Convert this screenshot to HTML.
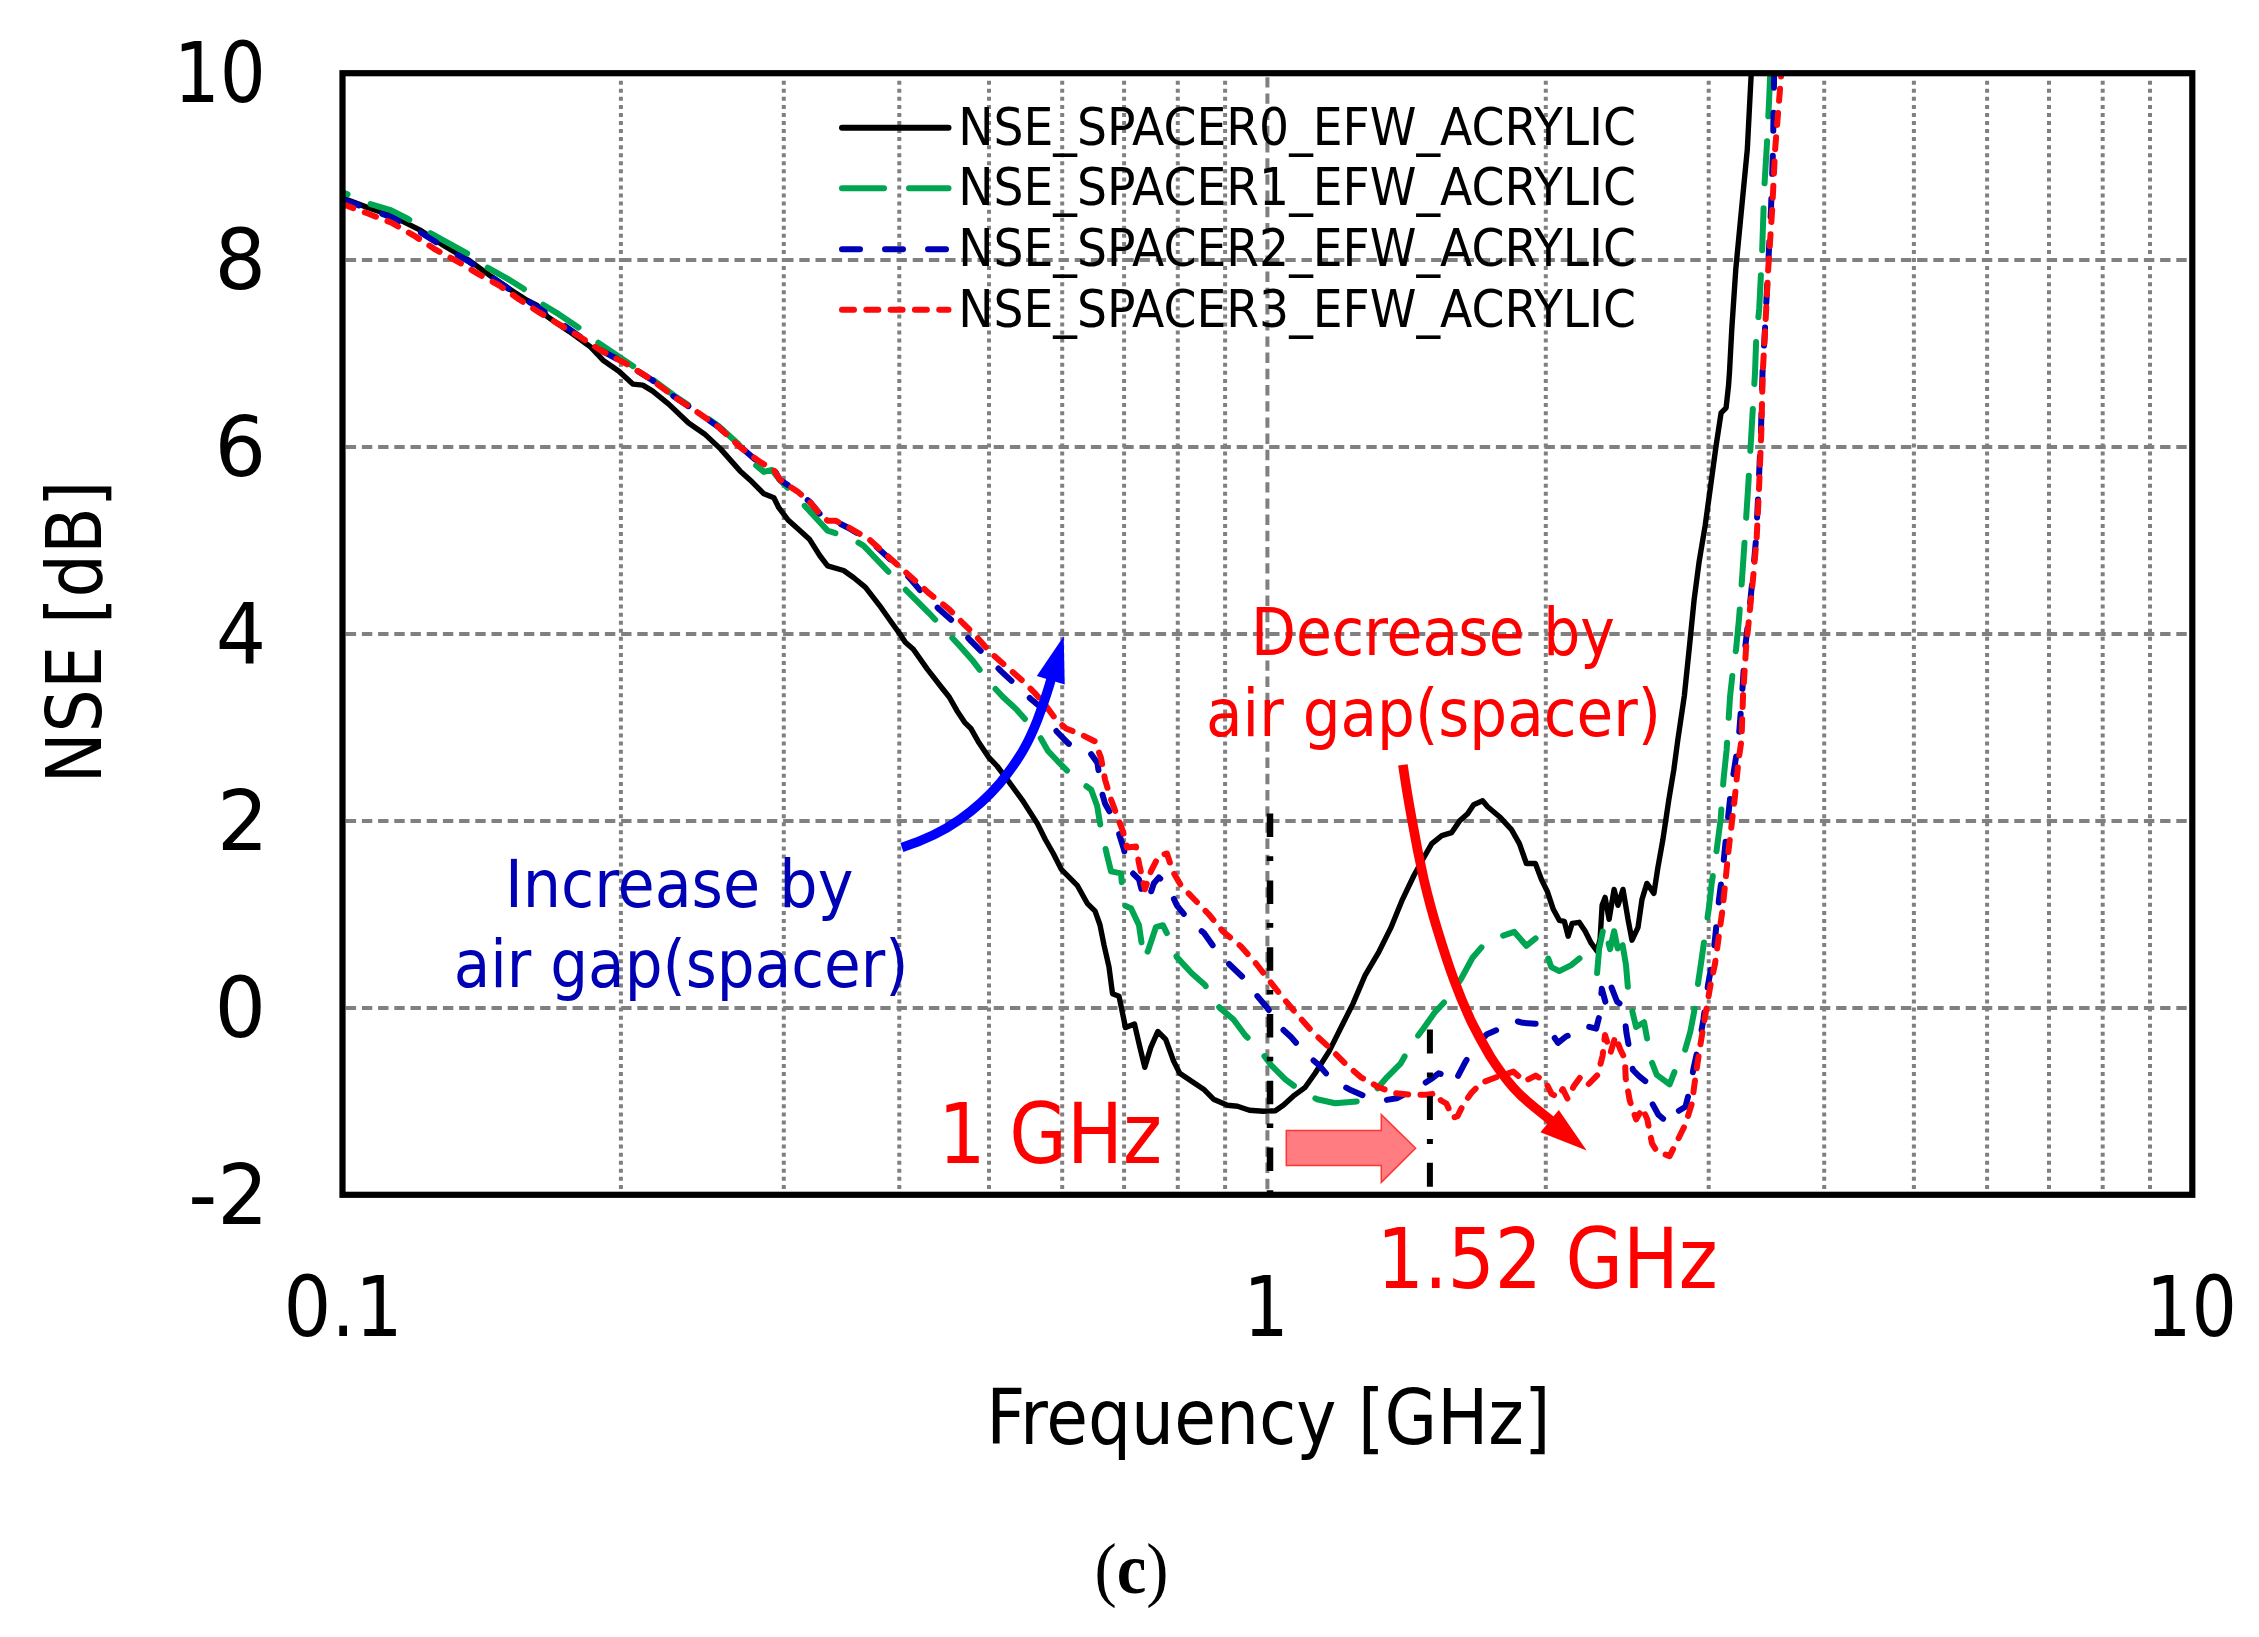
<!DOCTYPE html>
<html lang="en"><head><meta charset="utf-8"><title>NSE vs Frequency (c)</title>
<style>html,body{margin:0;padding:0;background:#fff;}svg{display:block;}text{font-family:"DejaVu Sans Condensed","DejaVu Sans","Liberation Sans",sans-serif;}.ser{font-family:"Liberation Serif",serif;}</style></head><body>
<svg width="2259" height="1637" viewBox="0 0 2259 1637">
<rect width="2259" height="1637" fill="#fff"/>
<defs><clipPath id="pc"><rect x="342.5" y="73.2" width="1849.8000000000002" height="1121.6"/></clipPath></defs>
<g stroke="#808080" stroke-width="4" fill="none">
<line x1="620.9" y1="80.7" x2="620.9" y2="1194.8" stroke-dasharray="4 4.06"/>
<line x1="783.8" y1="80.7" x2="783.8" y2="1194.8" stroke-dasharray="4 4.06"/>
<line x1="899.3" y1="80.7" x2="899.3" y2="1194.8" stroke-dasharray="4 4.06"/>
<line x1="989.0" y1="80.7" x2="989.0" y2="1194.8" stroke-dasharray="4 4.06"/>
<line x1="1062.2" y1="80.7" x2="1062.2" y2="1194.8" stroke-dasharray="4 4.06"/>
<line x1="1124.1" y1="80.7" x2="1124.1" y2="1194.8" stroke-dasharray="4 4.06"/>
<line x1="1177.8" y1="80.7" x2="1177.8" y2="1194.8" stroke-dasharray="4 4.06"/>
<line x1="1225.1" y1="80.7" x2="1225.1" y2="1194.8" stroke-dasharray="4 4.06"/>
<line x1="1545.8" y1="80.7" x2="1545.8" y2="1194.8" stroke-dasharray="4 4.06"/>
<line x1="1708.7" y1="80.7" x2="1708.7" y2="1194.8" stroke-dasharray="4 4.06"/>
<line x1="1824.2" y1="80.7" x2="1824.2" y2="1194.8" stroke-dasharray="4 4.06"/>
<line x1="1913.9" y1="80.7" x2="1913.9" y2="1194.8" stroke-dasharray="4 4.06"/>
<line x1="1987.1" y1="80.7" x2="1987.1" y2="1194.8" stroke-dasharray="4 4.06"/>
<line x1="2049.0" y1="80.7" x2="2049.0" y2="1194.8" stroke-dasharray="4 4.06"/>
<line x1="2102.7" y1="80.7" x2="2102.7" y2="1194.8" stroke-dasharray="4 4.06"/>
<line x1="2150.0" y1="80.7" x2="2150.0" y2="1194.8" stroke-dasharray="4 4.06"/>
<line x1="345.7" y1="260.1" x2="2192.3" y2="260.1" stroke-dasharray="10.4 5.8"/>
<line x1="345.7" y1="447.1" x2="2192.3" y2="447.1" stroke-dasharray="10.4 5.8"/>
<line x1="345.7" y1="634.0" x2="2192.3" y2="634.0" stroke-dasharray="10.4 5.8"/>
<line x1="345.7" y1="820.9" x2="2192.3" y2="820.9" stroke-dasharray="10.4 5.8"/>
<line x1="345.7" y1="1007.9" x2="2192.3" y2="1007.9" stroke-dasharray="10.4 5.8"/>
<line x1="1267.4" y1="77.2" x2="1267.4" y2="1194.8" stroke-dasharray="10.4 5.8"/>
</g>
<g clip-path="url(#pc)" fill="none" stroke-linejoin="round">
<polyline points="342.0,197.9 365.9,206.9 391.8,215.8 419.7,229.8 445.6,246.7 469.5,260.6 491.4,276.6 513.3,291.5 527.3,300.5 537.2,305.5 547.2,316.4 569.1,331.4 591.0,347.3 603.0,360.2 618.9,371.2 632.8,384.1 642.8,385.1 652.7,391.1 668.7,404.1 688.6,423.0 704.5,433.9 720.5,448.9 740.0,470.9 752.0,481.8 763.9,493.8 773.9,497.8 778.8,507.7 787.8,519.7 799.8,530.6 809.7,539.6 819.7,555.5 827.6,565.9 843.6,570.5 853.5,577.5 865.5,587.4 879.4,605.3 891.4,622.3 901.4,636.2 905.3,642.2 913.3,649.2 927.3,669.1 941.2,687.0 949.2,697.0 957.1,710.9 965.1,722.9 971.1,728.8 979.0,742.8 989.0,757.7 997.0,766.0 1007.5,779.8 1023.4,801.7 1037.4,823.6 1045.3,839.5 1053.3,853.5 1061.3,869.4 1077.2,885.3 1087.2,903.3 1095.1,911.2 1100.0,925.0 1104.0,945.0 1109.0,967.0 1112.5,993.7 1119.0,996.2 1122.5,1013.0 1125.5,1027.6 1134.5,1024.0 1139.5,1045.6 1144.8,1067.3 1150.8,1047.4 1157.8,1031.5 1165.7,1039.4 1173.7,1061.4 1179.7,1073.3 1191.6,1081.3 1203.6,1089.2 1213.5,1099.2 1227.5,1105.2 1237.5,1106.2 1249.4,1110.2 1263.3,1111.2 1275.3,1110.8 1283.3,1105.2 1293.2,1096.2 1305.2,1087.3 1315.1,1073.3 1329.1,1051.4 1341.0,1027.5 1353.0,1003.6 1364.9,975.7 1378.9,951.8 1390.8,927.9 1402.4,899.6 1413.9,875.5 1423.8,857.5 1431.8,843.6 1441.8,835.6 1451.7,832.6 1459.7,820.7 1467.6,813.7 1473.6,804.7 1482.6,800.8 1487.6,806.7 1499.5,816.7 1511.5,829.6 1519.4,843.6 1526.4,863.5 1535.4,863.5 1541.4,879.4 1547.3,891.4 1553.3,909.3 1559.3,920.3 1564.3,921.3 1568.2,936.2 1572.2,923.3 1579.2,922.3 1585.2,931.2 1591.2,943.2 1597.1,951.2 1600.1,939.2 1602.1,905.3 1605.1,897.4 1609.1,919.3 1614.1,889.4 1618.0,905.3 1623.0,889.4 1628.0,919.3 1632.0,940.2 1638.0,927.3 1642.0,899.4 1646.9,883.4 1653.9,893.4 1657.9,867.5 1662.9,839.6 1668.8,799.8 1673.8,769.9 1677.8,740.0 1684.3,696.1 1689.2,648.9 1694.2,599.1 1699.2,561.2 1705.2,525.4 1711.2,481.6 1716.1,445.7 1721.1,412.8 1726.1,407.8 1728.5,385.9 1729.5,372.0 1731.8,328.9 1735.8,269.1 1741.5,209.4 1747.3,149.6 1751.2,73.9 1752.0,55.0" stroke="#000" stroke-width="5.4" stroke-linecap="round"/>
<polyline points="342.0,191.9 369.9,203.9 389.8,209.8 407.7,218.8 429.6,232.7 447.6,242.7 467.5,253.7 487.4,267.6 507.3,278.6 523.3,288.5 541.2,303.5 559.1,314.4 577.0,326.4 599.0,343.3 626.9,362.0 650.8,378.0 674.7,396.0 698.6,412.0 718.5,426.0 738.4,444.0 752.0,461.9 763.9,471.9 771.9,469.9 779.8,479.8 801.8,502.7 815.7,517.7 827.6,530.6 851.6,538.6 863.5,545.6 883.4,566.5 899.4,583.4 913.3,597.4 929.2,613.3 945.2,630.2 959.1,645.2 973.1,661.1 988.0,681.0 1003.0,697.0 1016.9,709.9 1038.8,734.8 1048.0,751.0 1057.3,760.8 1073.2,776.8 1091.2,789.7 1097.1,805.7 1101.1,829.6 1107.1,855.5 1111.1,871.4 1121.0,873.4 1124.0,905.3 1131.0,908.2 1139.0,925.2 1143.9,959.0 1147.9,951.1 1155.9,927.2 1162.9,925.2 1168.8,937.1 1176.8,957.1 1192.0,973.5 1205.0,985.0 1214.0,1000.0 1219.5,1007.6 1233.5,1019.5 1245.4,1035.5 1259.4,1049.4 1271.3,1065.3 1285.3,1079.3 1301.2,1091.2 1317.1,1099.2 1335.1,1103.2 1359.0,1101.2 1374.9,1091.2 1386.9,1077.3 1400.8,1063.3 1410.8,1045.4 1422.7,1029.5 1434.7,1012.5 1448.6,997.6 1460.6,979.7 1472.5,957.8 1484.5,943.8 1502.4,935.9 1514.3,931.9 1526.3,945.8 1536.3,937.8 1546.3,953.1 1551.3,967.1 1559.3,971.1 1571.2,965.1 1581.2,957.1 1587.2,965.1 1597.1,973.1 1599.1,949.2 1604.1,925.3 1610.1,949.2 1614.1,931.2 1619.0,955.1 1622.0,941.2 1626.0,965.1 1628.0,989.0 1632.0,1010.0 1636.1,1027.0 1644.1,1022.2 1647.3,1039.7 1650.5,1058.9 1656.8,1074.8 1669.6,1084.4 1675.2,1070.0 1683.9,1054.1 1690.3,1031.7 1694.0,1012.6 1697.0,990.3 1701.5,960.0 1705.0,935.0 1708.7,909.3 1711.7,883.4 1716.7,849.6 1720.6,819.7 1723.5,779.8 1726.6,750.0 1730.1,696.1 1733.1,668.8 1736.1,648.9 1739.0,619.0 1742.0,579.2 1745.0,535.3 1748.0,489.5 1751.0,439.7 1753.0,405.9 1755.0,373.0 1756.2,338.8 1759.2,309.0 1762.2,249.2 1764.2,189.4 1767.2,139.6 1769.2,97.8 1771.0,55.0" stroke="#00A551" stroke-width="6" stroke-linecap="round" stroke-dasharray="42 25" stroke-dashoffset="36"/>
<polyline points="342.0,199.0 365.9,208.0 391.8,217.5 419.7,232.0 445.6,248.0 469.5,262.0 491.4,277.0 513.3,292.0 537.2,307.0 559.1,322.0 579.0,336.0 599.0,349.3 626.9,364.2 650.8,379.2 674.7,397.1 698.6,413.0 718.5,427.0 738.4,444.9 754.3,458.8 768.3,468.8 774.3,469.5 779.8,479.8 797.8,491.8 809.7,501.8 819.7,513.7 827.6,521.5 835.6,521.5 847.6,527.5 869.5,540.5 891.4,560.5 909.3,577.5 919.3,589.4 939.2,609.3 955.1,623.3 971.1,641.2 985.0,655.1 1001.0,671.1 1014.9,684.0 1030.8,699.0 1042.8,708.9 1056.7,731.5 1068.7,743.8 1089.5,751.8 1097.5,763.0 1101.1,789.7 1105.1,803.7 1115.0,821.0 1124.0,849.5 1127.0,867.4 1139.0,879.4 1142.9,895.3 1147.9,901.3 1153.9,883.3 1158.9,877.4 1167.8,885.3 1176.8,905.3 1190.0,921.5 1204.0,933.0 1217.0,951.5 1229.0,964.0 1245.0,979.3 1254.0,992.2 1268.0,1008.7 1276.0,1023.0 1291.0,1037.0 1305.2,1053.4 1319.1,1065.3 1331.1,1079.3 1349.0,1089.2 1364.9,1096.2 1384.9,1100.2 1396.8,1098.2 1416.7,1088.2 1430.7,1079.3 1438.6,1073.3 1448.0,1076.4 1454.3,1083.0 1465.0,1062.6 1474.0,1047.5 1487.0,1034.2 1499.0,1029.0 1512.0,1020.0 1522.9,1022.8 1537.3,1024.0 1548.4,1028.6 1558.0,1042.9 1566.0,1036.5 1573.9,1033.3 1583.5,1025.4 1596.2,1028.6 1599.4,1015.8 1601.8,988.7 1606.6,1006.2 1611.4,987.1 1617.0,1001.5 1623.3,1006.2 1626.5,1033.3 1629.7,1050.9 1632.9,1070.0 1639.3,1076.4 1647.3,1082.8 1650.5,1100.3 1658.4,1114.7 1669.6,1124.2 1677.6,1111.5 1685.5,1106.7 1690.3,1087.6 1693.5,1068.4 1699.9,1039.7 1703.5,1018.9 1708.0,985.0 1712.6,960.0 1715.0,939.2 1719.0,899.4 1722.8,869.5 1726.8,829.6 1731.0,789.8 1735.6,759.9 1738.6,740.0 1742.0,696.1 1745.0,648.9 1748.5,619.0 1752.5,579.2 1756.0,539.3 1758.5,489.5 1761.0,429.8 1762.5,373.0 1765.0,328.9 1768.0,269.1 1771.0,209.4 1773.0,149.6 1774.1,75.9 1774.5,55.0" stroke="#0000B4" stroke-width="6" stroke-linecap="round" stroke-dasharray="18 25"/>
<polyline points="342.0,203.9 365.9,212.8 391.8,222.8 415.7,236.7 435.6,249.7 459.5,262.6 479.4,274.6 499.4,285.5 519.3,299.5 539.2,312.4 559.1,324.4 579.0,336.3 599.0,349.3 626.9,364.2 650.8,379.2 674.7,397.1 698.6,413.0 718.5,427.0 740.0,447.0 760.0,461.9 773.9,469.9 779.8,479.8 797.8,491.8 809.7,501.8 819.7,513.7 827.6,520.7 835.6,520.7 847.6,526.7 869.5,539.6 891.4,559.5 909.3,575.5 929.2,593.4 949.2,609.3 963.1,623.3 975.1,635.2 991.0,653.1 1006.9,667.1 1022.9,681.0 1034.8,693.0 1046.8,706.9 1056.0,719.5 1066.0,728.4 1083.0,735.4 1095.0,741.4 1101.0,758.0 1105.1,779.8 1111.1,799.7 1117.0,815.6 1123.0,831.6 1127.0,847.5 1136.0,846.5 1139.0,863.4 1144.9,889.3 1150.9,871.4 1158.9,855.5 1166.9,853.5 1172.8,871.4 1180.8,885.3 1193.5,898.5 1209.0,914.5 1223.0,931.5 1241.0,946.5 1256.0,963.5 1270.0,981.5 1284.0,999.0 1298.5,1016.0 1313.5,1033.0 1329.1,1047.4 1345.0,1063.3 1361.0,1077.3 1378.9,1087.3 1394.8,1093.2 1410.8,1094.8 1426.7,1094.8 1436.7,1093.2 1441.0,1100.5 1446.4,1103.5 1452.8,1117.8 1457.5,1116.2 1463.9,1103.5 1471.9,1092.3 1481.5,1082.8 1494.2,1078.0 1513.3,1071.6 1524.5,1081.2 1535.7,1075.6 1545.2,1081.2 1551.6,1093.9 1558.0,1097.1 1562.8,1089.1 1567.5,1098.7 1573.9,1086.0 1580.3,1077.2 1588.3,1084.4 1597.8,1074.8 1602.6,1055.7 1605.0,1034.9 1610.6,1052.5 1615.4,1036.5 1620.2,1049.3 1624.9,1058.9 1625.7,1078.0 1629.7,1100.3 1636.1,1119.4 1642.5,1108.3 1647.3,1119.4 1652.0,1143.4 1656.8,1151.3 1669.6,1156.1 1676.0,1143.4 1685.5,1124.2 1691.9,1103.5 1695.1,1079.6 1699.9,1047.7 1705.0,1017.0 1710.5,985.0 1715.0,964.0 1719.0,935.0 1722.6,909.3 1728.6,849.6 1734.6,799.8 1738.6,759.9 1741.5,740.0 1743.0,696.1 1746.0,648.9 1749.0,619.0 1753.0,579.2 1756.6,539.3 1759.0,489.5 1761.4,429.8 1762.7,373.0 1765.2,328.9 1768.2,269.1 1772.2,209.4 1775.1,149.6 1781.1,75.9 1782.5,55.0" stroke="#FF0A0A" stroke-width="6" stroke-linecap="round" stroke-dasharray="12 12.3"/>
</g>
<rect x="342.5" y="73.2" width="1849.8" height="1121.6" fill="none" stroke="#000" stroke-width="6.2"/>
<line x1="842" y1="127.8" x2="948.5" y2="127.8" stroke="#000" stroke-width="6" stroke-linecap="round"/>
<line x1="842" y1="188.2" x2="948.5" y2="188.2" stroke="#00A551" stroke-width="6" stroke-linecap="round" stroke-dasharray="42 25"/>
<line x1="842" y1="249.3" x2="948.5" y2="249.3" stroke="#0000B4" stroke-width="6" stroke-linecap="round" stroke-dasharray="18 25"/>
<line x1="842" y1="309.7" x2="948.5" y2="309.7" stroke="#FF0A0A" stroke-width="6" stroke-linecap="round" stroke-dasharray="12 12.3"/>
<line x1="1270" y1="813.6" x2="1270" y2="1192.8" stroke="#000" stroke-width="6.5" stroke-dasharray="23.5 19.2 4.6 19.5"/>
<line x1="1429.9" y1="1029.5" x2="1429.9" y2="1192.8" stroke="#000" stroke-width="6" stroke-dasharray="24 19 5 18.6"/>
<polygon points="1286.3,1130.4 1381.3,1130.4 1381.3,1114.6 1415.6,1148.2 1381.3,1182.4 1381.3,1165.6 1286.3,1165.6" fill="#FF7D81" stroke="#FF3535" stroke-width="1.5" stroke-linejoin="miter"/>
<path d="M901.9,847.5 C925,840 945,830 959.7,819.6 C975,809 989,796 999.5,783.7 C1009,772 1017,761 1023.4,749.9 C1029,740 1033.5,730 1037.4,720 C1043,705 1047.5,693 1052,676" fill="none" stroke="#0000FF" stroke-width="9.6"/>
<polygon points="1063.7,636.2 1036.8,676 1064.7,684.5" fill="#0000FF"/>
<path d="M1402.9,764.9 C1405.5,783 1408.5,801 1411.9,819.7 C1415.5,840 1419.5,860 1423.8,879.4 C1428,897 1432.5,914 1437.8,931 C1443,948 1448,964 1454,980 C1459.5,995 1465,1008 1471.5,1022 C1477,1033 1483,1044 1490,1056 C1497,1067 1504,1077 1513.3,1087.6 C1520,1095 1527,1101.5 1535.7,1108.3 C1541,1112.5 1546,1116.5 1551.6,1121" fill="none" stroke="#FF0000" stroke-width="9.6"/>
<polygon points="1586.7,1150.5 1558.8,1109.9 1540.4,1132.2" fill="#FF0000"/>
<text x="958.19" y="144.6" font-size="51" textLength="677.81" lengthAdjust="spacingAndGlyphs" fill="#000">NSE_SPACER0_EFW_ACRYLIC</text>
<text x="958.19" y="205.2" font-size="51" textLength="677.81" lengthAdjust="spacingAndGlyphs" fill="#000">NSE_SPACER1_EFW_ACRYLIC</text>
<text x="958.19" y="265.9" font-size="51" textLength="677.81" lengthAdjust="spacingAndGlyphs" fill="#000">NSE_SPACER2_EFW_ACRYLIC</text>
<text x="958.19" y="326.5" font-size="51" textLength="677.81" lengthAdjust="spacingAndGlyphs" fill="#000">NSE_SPACER3_EFW_ACRYLIC</text>
<text x="504.94" y="906.5" font-size="66" textLength="348.47" lengthAdjust="spacingAndGlyphs" fill="#0000B4">Increase by</text>
<text x="453.75" y="987.1" font-size="66" textLength="454.70" lengthAdjust="spacingAndGlyphs" fill="#0000B4">air gap(spacer)</text>
<text x="1250.98" y="655.3" font-size="66" textLength="363.84" lengthAdjust="spacingAndGlyphs" fill="#FF0000">Decrease by</text>
<text x="1206.06" y="736" font-size="66" textLength="455.10" lengthAdjust="spacingAndGlyphs" fill="#FF0000">air gap(spacer)</text>
<text x="938.37" y="1163" font-size="84" textLength="223.63" lengthAdjust="spacingAndGlyphs" fill="#FF0000">1 GHz</text>
<text x="1376.78" y="1288.4" font-size="84" textLength="341.04" lengthAdjust="spacingAndGlyphs" fill="#FF0000">1.52 GHz</text>
<text x="173.79" y="102.3" font-size="83.5" textLength="92.01" lengthAdjust="spacingAndGlyphs" fill="#000">10</text>
<text x="214.62" y="289.2" font-size="83.5" textLength="51.55" lengthAdjust="spacingAndGlyphs" fill="#000">8</text>
<text x="214.60" y="476.2" font-size="83.5" textLength="51.57" lengthAdjust="spacingAndGlyphs" fill="#000">6</text>
<text x="215.80" y="663.1" font-size="83.5" textLength="50.40" lengthAdjust="spacingAndGlyphs" fill="#000">4</text>
<text x="216.93" y="850.0" font-size="83.5" textLength="51.47" lengthAdjust="spacingAndGlyphs" fill="#000">2</text>
<text x="214.62" y="1037.0" font-size="83.5" textLength="51.55" lengthAdjust="spacingAndGlyphs" fill="#000">0</text>
<text x="188.16" y="1223.9" font-size="83.5" textLength="80.08" lengthAdjust="spacingAndGlyphs" fill="#000">-2</text>
<text x="283.38" y="1335.7" font-size="83.5" textLength="119.46" lengthAdjust="spacingAndGlyphs" fill="#000">0.1</text>
<text x="1243.48" y="1335.7" font-size="83.5" textLength="45.09" lengthAdjust="spacingAndGlyphs" fill="#000">1</text>
<text x="2146.10" y="1335.7" font-size="83.5" textLength="90.84" lengthAdjust="spacingAndGlyphs" fill="#000">10</text>
<text x="986.37" y="1444.4" font-size="76.8" textLength="564.05" lengthAdjust="spacingAndGlyphs" fill="#000">Frequency [GHz]</text>
<text transform="translate(100.7,632) rotate(-90)" x="-151.50" y="0" font-size="77.2" textLength="303.00" lengthAdjust="spacingAndGlyphs" fill="#000">NSE [dB]</text>
<text class="ser" x="1094.5" y="1593" font-size="72" fill="#000" textLength="74" lengthAdjust="spacingAndGlyphs">(<tspan font-weight="bold">c</tspan>)</text>
</svg></body></html>
